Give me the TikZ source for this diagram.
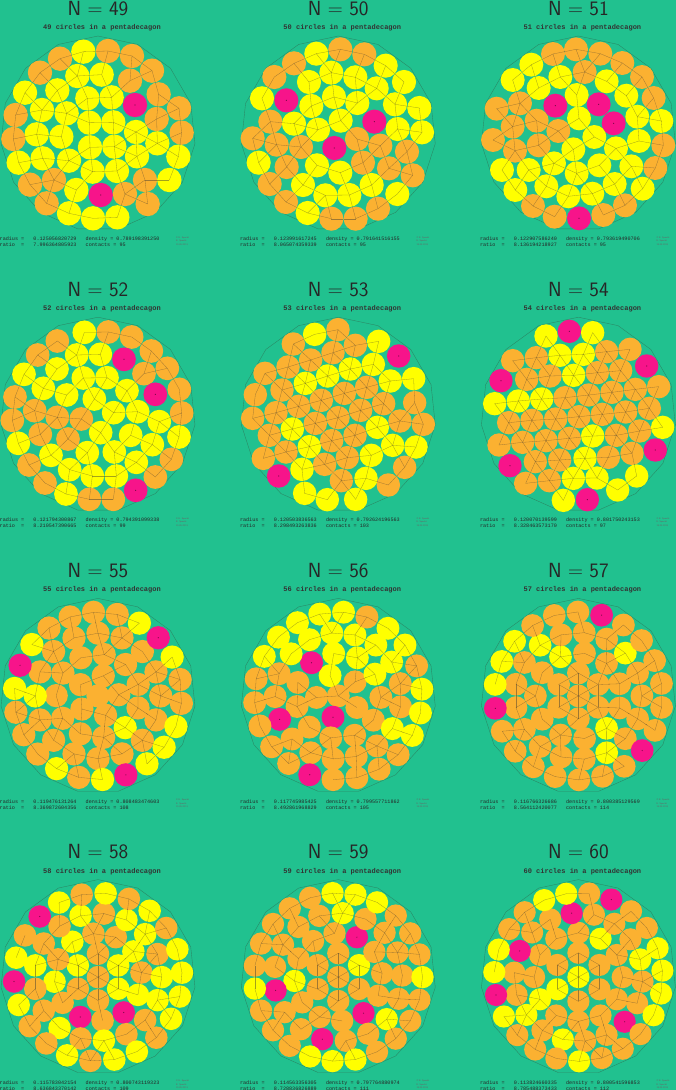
\documentclass[tikz,border=0pt]{standalone}
\usepackage{fontspec}
\newfontfamily\monofont{Liberation Mono}
\definecolor{bg}{HTML}{21C18F}
\definecolor{cO}{HTML}{FBB131}
\definecolor{cY}{HTML}{FFFF00}
\definecolor{cP}{HTML}{F7148A}
\definecolor{edge}{HTML}{2A8A66}
\tikzset{
 ptitle/.style={font=\fontsize{20.5}{22}\selectfont\sffamily, anchor=base, inner sep=0pt, text=black!85},
 psub/.style={font=\monofont\bfseries\fontsize{7}{8}\selectfont, anchor=base, inner sep=0pt, text=black!80},
 pinfo/.style={font=\monofont\fontsize{5.12}{6}\selectfont, anchor=base west, inner sep=0pt, text=black!85},
 pcopy/.style={font=\sffamily\fontsize{2.4}{3}\selectfont, anchor=base west, inner sep=0pt, text=black!60},
 ppoly/.style={draw=edge, line width=0.4pt},
 pcontact/.style={draw=black!80, line width=0.3pt, opacity=0.45},
 pdot/.style={fill=black!50!cP},
}
\def\pinkname{P}
\newcommand\drawset[3]{%
  \foreach \xa/\ya/\ca in #1 {\fill[fill=c\ca] (\xa,\ya) circle[radius=#3pt];}
  \foreach \xa/\ya/\ca [count=\i] in #1 {
    \foreach \xb/\yb/\cb [count=\j] in #1 {
      \ifnum\j>\i\relax
        \edef\tA{\ca}\edef\tB{\cb}%
        \ifx\tA\pinkname\else\ifx\tB\pinkname\else
          \pgfmathsetmacro\cdist{veclen(\xb-\xa,\yb-\ya)}%
          \pgfmathtruncatemacro\cok{(\cdist<2.2*#2)*(\cdist>1.83*#2)}%
          \ifnum\cok=1\relax
            \pgfmathsetmacro\cfac{#2/\cdist}%
            \draw[pcontact] (\xa,\ya) -- ({\xa+(\xb-\xa)*\cfac},{\ya+(\yb-\ya)*\cfac});
            \draw[pcontact] (\xb,\yb) -- ({\xb-(\xb-\xa)*\cfac},{\yb-(\yb-\ya)*\cfac});
          \fi
        \fi\fi
      \fi
    }
  }
  \foreach \xa/\ya/\ca in #1 {\edef\tA{\ca}\ifx\tA\pinkname\fill[pdot] (\xa,\ya) circle[radius=0.6pt];\fi}
}
\newcommand\addring[4]{%
  \foreach \cc [count=\k from 0] in {#4} {%
    \pgfmathsetmacro\rpx{#2*cos(#3+360*\k/#1)}%
    \pgfmathsetmacro\rpy{-#2*sin(#3+360*\k/#1)}%
    \xdef\rlist{\rlist,\rpx/\rpy/\cc}%
  }}
\newcommand\panelinfo[7]{%
  \draw[ppoly,shift={(#1,#2)}] (-90:97.5) \foreach \k in {1,...,14}{ -- (-90+24*\k:97.5)} -- cycle;
  \node[ptitle] (title#3) at (#1,#2-118.2) {N $=$ #3};
  \node[psub] (sub#3) at (#1+4,#2-104) {#3 circles in a pentadecagon};
  \node[pinfo] (ia#3) at (#1-98.5,#2+107.2) {radius\ =\ \ \ #4\ \ \ density\ =\ #5};
  \node[pinfo] (ib#3) at (#1-98.5,#2+113.2) {ratio\ \ =\ \ \ #6\ \ \ contacts\ =\ #7};
  \node[pcopy] (ca#3) at (#1+78,#2+104.7) {\textcopyright\ E. Specht};
  \node[pcopy] (cb#3) at (#1+78,#2+108.2) {E. Specht};
  \node[pcopy] (cc#3) at (#1+78,#2+111.7) {15.05.2013};
}
\def\plA{250/155/Y, 324/153/O, 180/176/O, 396/168/O, 120/218/O, 232/228/Y, 305/224/Y, 456/212/O, 390/242/O, 75/278/Y, 172/271/Y, 262/295/Y, 335/292/Y, 476/283/O, 405/315/P, 126/330/Y, 200/340/Y, 47/345/O, 537/325/O, 268/368/Y, 340/367/Y, 470/357/O, 110/403/Y, 184/410/Y, 40/417/O, 408/396/Y, 545/398/O, 270/442/Y, 343/440/Y, 472/430/Y, 128/475/Y, 207/482/Y, 56/488/Y, 411/469/Y, 535/470/Y, 278/515/Y, 351/513/Y, 435/540/O, 508/540/Y, 90/554/O, 162/540/O, 229/570/Y, 302/585/P, 375/582/O, 140/610/O, 443/612/O, 207/640/Y, 279/655/Y, 352/652/Y}
\def\plB{229/161/Y, 301/148/O, 373/163/O, 162/190/O, 437/197/Y, 103/231/O, 274/218/Y, 346/232/Y, 207/246/Y, 492/246/Y, 410/265/Y, 66/295/Y, 139/301/P, 282/291/Y, 352/309/Y, 465/313/Y, 214/318/Y, 538/324/Y, 91/365/O, 162/371/Y, 302/362/Y, 403/365/P, 234/389/Y, 473/387/Y, 546/397/Y, 38/415/O, 110/434/O, 183/441/O, 351/417/O, 283/444/P, 421/437/O, 501/455/O, 56/488/Y, 140/501/O, 231/496/Y, 369/488/O, 301/518/Y, 447/505/O, 518/526/O, 89/552/O, 189/555/Y, 395/555/Y, 256/586/Y, 328/585/Y, 472/582/Y, 138/606/O, 414/626/O, 203/639/Y, 274/656/O, 347/656/O}
\def\plC{318/148/O, 249/162/O, 391/161/O, 184/194/Y, 457/189/O, 128/240/Y, 271/231/Y, 344/216/O, 410/244/Y, 516/231/O, 206/264/Y, 320/285/Y, 469/287/Y, 256/317/P, 386/313/P, 80/326/O, 150/310/O, 551/294/O, 200/362/O, 327/355/Y, 431/370/P, 502/350/Y, 574/363/Y, 128/380/O, 265/393/O, 373/411/Y, 69/420/O, 135/452/O, 206/436/O, 310/448/Y, 438/445/Y, 507/423/Y, 580/436/O, 96/510/Y, 176/510/Y, 252/490/Y, 320/520/Y, 388/496/Y, 484/499/Y, 556/504/O, 136/570/Y, 229/559/Y, 295/589/Y, 367/581/Y, 434/552/Y, 518/566/Y, 189/618/O, 254/650/O, 327/655/P, 400/645/O, 465/616/O}
\def\plD{253/172/Y, 325/171/O, 395/186/O, 172/198/O, 454/228/O, 113/240/O, 230/240/Y, 301/238/Y, 372/253/P, 502/280/O, 72/298/Y, 171/282/Y, 250/309/Y, 321/308/Y, 432/296/O, 130/340/Y, 200/360/Y, 283/372/Y, 381/347/Y, 466/358/P, 538/343/O, 45/366/O, 104/407/O, 172/427/O, 244/432/O, 341/413/Y, 413/410/Y, 37/436/O, 478/440/Y, 545/414/O, 121/478/O, 204/492/O, 302/473/Y, 392/481/Y, 55/505/Y, 153/541/Y, 262/533/Y, 343/531/Y, 457/509/Y, 537/486/Y, 87/570/O, 209/584/Y, 409/562/Y, 514/553/O, 135/624/O, 277/603/Y, 349/603/Y, 466/606/O, 407/646/P, 198/657/Y, 268/673/O, 340/673/O}
\def\plE{224/178/Y, 294/164/O, 160/207/O, 346/211/O, 416/199/Y, 476/243/P, 212/255/O, 279/233/O, 75/295/O, 144/276/O, 331/282/Y, 400/268/Y, 263/303/Y, 196/325/Y, 451/318/Y, 521/311/Y, 46/359/O, 126/345/O, 313/355/O, 380/337/O, 244/376/O, 176/394/O, 431/386/O, 524/383/O, 38/430/O, 108/413/O, 294/428/O, 362/406/O, 226/445/O, 157/462/Y, 412/457/Y, 480/438/O, 550/448/O, 88/481/O, 275/497/O, 345/481/O, 208/515/Y, 138/531/O, 458/511/Y, 528/516/Y, 70/550/O, 254/568/O, 322/548/O, 394/541/Y, 186/583/Y, 116/603/P, 494/577/O, 304/617/O, 378/610/Y, 445/630/O, 194/655/Y, 262/674/Y, 347/673/Y}
\def\plF{298/169/P, 228/183/Y, 368/173/Y, 128/257/O, 199/248/O, 270/241/Y, 340/238/Y, 410/230/O, 480/223/O, 530/273/P, 93/317/P, 170/313/O, 240/303/O, 311/301/Y, 382/293/O, 452/287/O, 566/335/O, 74/386/Y, 145/378/Y, 215/372/Y, 285/368/O, 356/360/O, 426/352/O, 496/343/O, 116/443/O, 186/436/O, 257/432/O, 327/425/O, 397/418/O, 467/411/O, 538/400/O, 87/510/O, 158/502/O, 228/497/O, 298/490/O, 368/483/Y, 439/481/O, 509/468/O, 578/457/Y, 120/572/P, 196/560/O, 269/555/O, 345/550/Y, 415/547/O, 486/535/O, 556/525/P, 167/625/O, 238/617/O, 310/610/Y, 381/609/Y, 500/603/Y, 443/645/Y, 280/676/Y, 352/674/P}
\begin{document}
\begin{tikzpicture}[x=1pt,y=-1pt]
\useasboundingbox (0,0) rectangle (676,1090);
\fill[bg] (0,0) rectangle (676,1090);
\panelinfo{98}{133.5}{49}{0.125056820729}{0.789198391250}{7.996364805923}{95}
\panelinfo{338.3}{133.5}{50}{0.123991617245}{0.791641516155}{8.065074359339}{95}
\panelinfo{578.4}{133.5}{51}{0.122907586240}{0.793619490706}{8.136194218927}{95}
\panelinfo{98}{414.7}{52}{0.121794300867}{0.794391099338}{8.210547390665}{99}
\panelinfo{338.3}{414.7}{53}{0.120503836563}{0.792624196563}{8.298493263836}{103}
\panelinfo{578.4}{414.7}{54}{0.120070139599}{0.801750243153}{8.328463573170}{97}
\panelinfo{98}{695.9}{55}{0.119476131264}{0.808483474603}{8.369872604356}{108}
\panelinfo{338.3}{695.9}{56}{0.117745985425}{0.799557711862}{8.492861968829}{105}
\panelinfo{578.4}{695.9}{57}{0.116766326686}{0.800385129569}{8.564112420077}{114}
\panelinfo{98}{977.1}{58}{0.115783042154}{0.800743119323}{8.636843370142}{109}
\panelinfo{338.3}{977.1}{59}{0.114563356305}{0.797764880974}{8.728836826889}{111}
\panelinfo{578.4}{977.1}{60}{0.113824660335}{0.800541596853}{8.785488373433}{112}
\begin{scope}[shift={(0,0)},x=0.333333pt,y=-0.333333pt] \drawset{\plA}{36.58}{12.193} \end{scope}
\begin{scope}[shift={(240,0)},x=0.333333pt,y=-0.333333pt] \drawset{\plB}{36.27}{12.089} \end{scope}
\begin{scope}[shift={(470,0)},x=0.333333pt,y=-0.333333pt] \drawset{\plC}{35.95}{11.983} \end{scope}
\begin{scope}[shift={(0,275)},x=0.333333pt,y=-0.333333pt] \drawset{\plD}{35.63}{11.875} \end{scope}
\begin{scope}[shift={(240,275)},x=0.333333pt,y=-0.333333pt] \drawset{\plE}{35.25}{11.749} \end{scope}
\begin{scope}[shift={(470,275)},x=0.333333pt,y=-0.333333pt] \drawset{\plF}{35.12}{11.707} \end{scope}
% N=55
\def\rlist{0/0/O}
\addring{5}{20.8}{3.3}{O,O,O,O,O}
\addring{11}{41.8}{16}{O,O,O,O,O,O,O,O,O,Y,O}
\addring{16}{62.75}{0}{O,O,O,O,O,O,O,O,Y,O,O,O,O,O,O,O}
\addring{22}{83.72}{-5.1}{O,O,Y,P,Y,O,O,O,O,Y,P,Y,O,O,O,Y,O,Y,P,Y,Y,Y}
\begin{scope}[shift={(98,695.9)}] \drawset{\rlist}{11.649}{11.649} \end{scope}
% N=56
\def\rlist{0/0/O}
\addring{5}{21.9}{40}{O,Y,O,P,O}
\addring{11}{42.6}{-2}{O,Y,Y,Y,P,O,O,O,O,O,O}
\addring{17}{63.2}{11.2}{O,Y,Y,Y,Y,Y,Y,O,O,P,O,O,O,O,O,Y,O}
\addring{22}{83.89}{4.6}{Y,O,Y,Y,O,Y,Y,Y,Y,Y,O,O,O,O,O,P,O,O,O,O,Y,Y}
\begin{scope}[shift={(338.3,695.9)}] \drawset{\rlist}{11.48}{11.48} \end{scope}
% N=57
\def\rlist{0/0/O}
\addring{6}{22.8}{30}{O,O,O,O,O,O}
\addring{11}{43.0}{16.4}{O,O,O,Y,O,O,O,O,O,Y,O}
\addring{17}{63.5}{0}{O,O,Y,O,O,O,Y,O,O,O,O,O,O,O,Y,O,O}
\addring{22}{83.99}{8.5}{O,O,O,O,P,O,O,O,Y,Y,Y,P,O,O,O,O,O,O,O,P,O,O}
\begin{scope}[shift={(578.4,695.9)}] \drawset{\rlist}{11.385}{11.385} \end{scope}
% N=58
\def\rlist{0/0/O}
\addring{6}{23.3}{30}{Y,O,Y,O,O,Y}
\addring{12}{43.7}{6}{O,Y,O,O,Y,O,Y,O,P,O,P,Y}
\addring{17}{63.8}{0}{Y,O,Y,Y,O,Y,O,O,Y,O,O,Y,O,Y,O,O,Y}
\addring{22}{84.08}{3}{Y,Y,O,Y,O,Y,O,Y,P,O,Y,P,Y,O,O,Y,O,Y,Y,O,Y,Y}
\begin{scope}[shift={(98,977.1)}] \drawset{\rlist}{11.289}{11.289} \end{scope}
% N=59
\def\rlist{0/0/O}
\addring{6}{23.9}{30}{Y,O,O,O,O,O}
\addring{12}{44.0}{5}{O,O,P,O,O,O,Y,O,O,O,P,O}
\addring{17}{64.1}{1.4}{O,O,O,O,Y,O,O,O,O,P,O,O,P,O,O,Y,O}
\addring{23}{84.2}{0}{Y,O,O,O,Y,Y,Y,O,O,O,O,O,Y,O,O,O,Y,Y,Y,O,O,O,O}
\begin{scope}[shift={(338.3,977.1)}] \drawset{\rlist}{11.17}{11.17} \end{scope}
% N=60
\def\rlist{0/0/Y}
\addring{6}{24.3}{30}{O,O,O,Y,O,O}
\addring{12}{44.3}{0}{O,O,Y,O,O,O,O,Y,O,O,O,O}
\addring{18}{64.3}{16}{Y,O,O,O,P,O,O,P,O,O,Y,O,Y,O,O,P,O,O}
\addring{23}{84.27}{4.4}{Y,Y,O,O,P,O,Y,Y,O,O,Y,Y,P,Y,O,O,O,Y,O,O,O,Y,Y}
\begin{scope}[shift={(578.4,977.1)}] \drawset{\rlist}{11.098}{11.098} \end{scope}
\end{tikzpicture}
\end{document}
